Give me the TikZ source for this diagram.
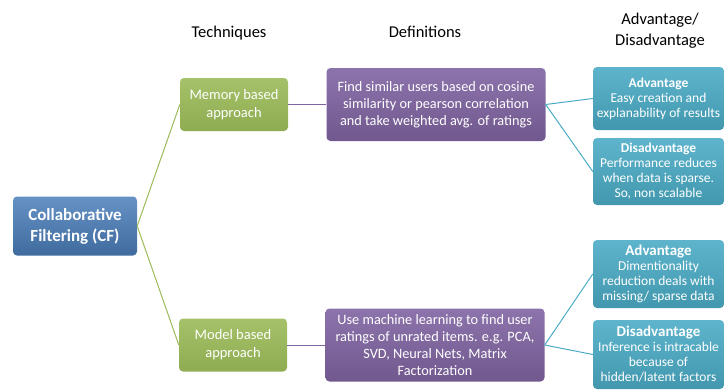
\documentclass[tikz,border=0pt]{standalone}
\usepackage{fontspec}
\setmainfont{Carlito}
\usepackage{tikz}
\usetikzlibrary{positioning}
\definecolor{cfblue}{HTML}{4A7EBB}
\definecolor{techgreen}{HTML}{9BBB59}
\definecolor{defpurple}{HTML}{8064A2}
\definecolor{proteal}{HTML}{4BACC6}
\tikzset{
% boxes of the tree
box/.style={rectangle, rounded corners=4pt, align=center, text=white, inner sep=2pt},
cfbox/.style={box, top color=cfblue!85!white, bottom color=cfblue!85!black,
  minimum width=124, minimum height=59, font=\fontsize{17}{21}\selectfont\bfseries},
techbox/.style={box, top color=techgreen!90!white, bottom color=techgreen!92!black,
  minimum width=108, minimum height=53, font=\fontsize{14.5}{18}\selectfont},
defbox/.style={box, top color=defpurple!90!white, bottom color=defpurple!88!black,
  minimum width=219, minimum height=73, font=\fontsize{14.3}{17}\selectfont},
probox/.style={box, top color=proteal!90!white, bottom color=proteal!88!black,
  minimum width=131, inner sep=1pt, font=\fontsize{13.5}{15}\selectfont},
head/.style={font=\fontsize{16.5}{21}\selectfont, align=center}
}

\begin{document}
\begin{tikzpicture}[x=1pt, y=-1pt]
  \useasboundingbox (0,0) rectangle (724,389);

  % column headers
  \node[head] (h-tech) at (229,33) {Techniques};
  \node[head] (h-def) at (425,32) {Definitions};
  \node[head] (h-pro) at (660,31) {Advantage/\\Disadvantage};

  \node[cfbox] (cf) at (75,226) {Collaborative\\Filtering (CF)};

  \node[techbox] (memory) at (234,104.5) {Memory based\\approach};
  \node[techbox] (model) at (233,345) {Model based\\approach};

  \node[defbox] (def-memory) at (436,104.5) {Find similar users based on cosine\\similarity or pearson correlation\\and take weighted avg. of ratings};
  \node[defbox] (def-model) at (435,345) {Use machine learning to find user\\ratings of unrated items. e.g. PCA,\\SVD, Neural Nets, Matrix\\Factorization};

  \node[probox, minimum height=63] (adv-memory) at (658.5,98.5) {\textbf{Advantage}\\Easy creation and\\explanability of results};
  \node[probox, minimum height=67] (dis-memory) at (658.5,171.5) {\textbf{Disadvantage}\\Performance reduces\\when data is sparse.\\So, non scalable};
  \node[probox, minimum height=68] (adv-model) at (658.5,274) {{\fontsize{15}{15}\selectfont\textbf{Advantage}}\\Dimentionality\\reduction deals with\\missing/ sparse data};
  \node[probox, minimum height=69] (dis-model) at (658.5,354.5) {{\fontsize{15}{15}\selectfont\textbf{Disadvantage}}\\Inference is intracable\\because of\\hidden/latent factors};

  % connectors
  \draw[techgreen, line width=1pt] (cf.east) -- (memory.west);
  \draw[techgreen, line width=1pt] (cf.east) -- (model.west);
  \draw[defpurple, line width=1pt] (memory) -- (def-memory);
  \draw[defpurple, line width=1pt] (model) -- (def-model);
  \draw[proteal, line width=1pt] (def-memory.east) -- (adv-memory.west);
  \draw[proteal, line width=1pt] (def-memory.east) -- (dis-memory.west);
  \draw[proteal, line width=1pt] (def-model.east) -- (adv-model.west);
  \draw[proteal, line width=1pt] (def-model.east) -- (dis-model.west);
\end{tikzpicture}
\end{document}
